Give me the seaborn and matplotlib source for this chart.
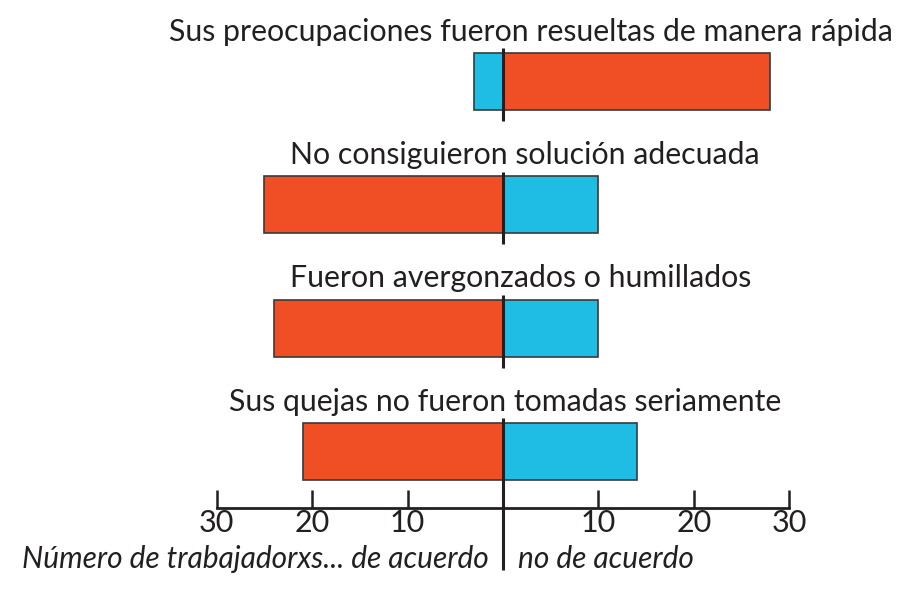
import pandas as pd
import seaborn as sns
import matplotlib.pyplot as plt

sns.set_style("white")
plt.rcParams['font.family'] = ['Lato', 'DejaVu Sans']

# respuestas de trabajadorxs (izquierda = de acuerdo, derecha = no de acuerdo)
preguntas = ["Sus preocupaciones fueron resueltas de manera rápida",
             "No consiguieron solución adecuada",
             "Fueron avergonzados o humillados",
             "Sus quejas no fueron tomadas seriamente"]
de_acuerdo = [3, 25, 24, 21]
no_de_acuerdo = [28, 10, 10, 14]
# que lado es la experiencia mala
lado_malo = ["no_de_acuerdo", "de_acuerdo", "de_acuerdo", "de_acuerdo"]
ticks = [-30, -20, -10, 10, 20, 30]
tick_labels = ["30", "20", "10", "10", "20", "30"]

rows = []
for p, a, n, m in zip(preguntas, de_acuerdo, no_de_acuerdo, lado_malo):
    rows.append({"pregunta": p, "valor": -a, "exp": "mala" if m == "de_acuerdo" else "buena"})
    rows.append({"pregunta": p, "valor": n, "exp": "mala" if m == "no_de_acuerdo" else "buena"})
data = pd.DataFrame(rows)

rojo = "#f04f26"
cian = "#1fbde3"
oscuro = "#231f20"

fig = plt.figure(figsize=(9.09, 5.89), dpi=100)
ax = fig.add_axes([216.7 / 909, 81 / 589, 572.6 / 909, 508 / 589])

sns.barplot(data=data, y="pregunta", x="valor", hue="exp", order=preguntas,
            palette={"mala": rojo, "buena": cian}, dodge=False, width=0.46,
            saturation=1, edgecolor="#3a3a3a", linewidth=1.2, legend=False, ax=ax)

ax.set_xlim(-30, 30)
ax.set_ylim(3.458, -0.661)

# linea central por barra
for i in range(len(preguntas)):
    bottom = 3.96 if i == len(preguntas) - 1 else i + 0.32
    ax.plot([0, 0], [i - 0.27, bottom], color=oscuro, lw=2.2,
            clip_on=False, zorder=5, solid_capstyle="butt")

# titulos
title_x = [2.9, 2.3, 1.8, 0.2]
for i, p in enumerate(preguntas):
    ax.text(title_x[i], i - 0.33, p, ha="center", va="baseline",
            fontsize=21.8, color=oscuro)

for s in ["top", "left", "right"]:
    ax.spines[s].set_visible(False)
ax.spines["bottom"].set_linewidth(2.0)
ax.spines["bottom"].set_color(oscuro)
ax.set_xticks(ticks)
ax.set_xticklabels(tick_labels)
ax.tick_params(axis="x", bottom=True, direction="in", length=13, width=1.8,
               color=oscuro, labelsize=22, labelcolor=oscuro, pad=1)
ax.set_yticks([])
ax.set_xlabel("")
ax.set_ylabel("")

ax.text(-1.5, 3.87, "Número de trabajadorxs... de acuerdo", ha="right",
        va="center", fontsize=21.5, style="italic", color=oscuro)
ax.text(1.6, 3.87, "no de acuerdo", ha="left", va="center", fontsize=21.5,
        style="italic", color=oscuro)

fig.savefig("out.png", dpi=100)
